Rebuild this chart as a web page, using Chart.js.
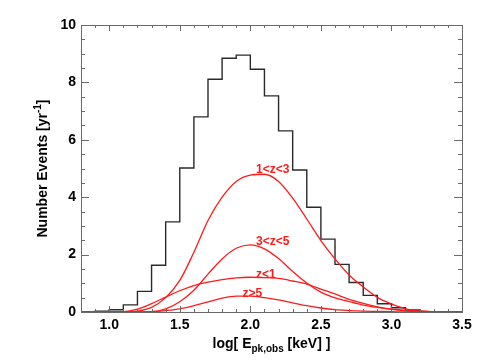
<!DOCTYPE html>
<html>
<head>
<meta charset="utf-8">
<script src="https://cdn.jsdelivr.net/npm/chart.js@4/dist/chart.umd.min.js"></script>
<style>
  html, body { margin: 0; padding: 0; background: #fff; }
  #wrap { width: 485px; height: 364px; }
</style>
</head>
<body>
<div id="wrap"><canvas id="chart" width="485" height="364"></canvas></div>
<script>
// ── Data ───────────────────────────────────────────────────────────────────

// histogram: left bin edges (last entry closes the final bin) and counts
const binEdges   = [0.8, 0.9, 1.0, 1.1, 1.2, 1.3, 1.4, 1.5, 1.6, 1.7, 1.8, 1.9, 2.0, 2.1,
                    2.2, 2.3, 2.4, 2.5, 2.6, 2.7, 2.8, 2.9, 3.0, 3.1, 3.2, 3.3, 3.4, 3.5];
const histCounts = [0, 0, 0.03, 0.08, 0.25, 0.72, 1.63, 3.14, 5.02, 6.80, 8.11, 8.84, 8.95, 8.46,
                    7.53, 6.31, 4.95, 3.65, 2.54, 1.66, 1.03, 0.58, 0.29, 0.15, 0.07, 0.01, 0];

// redshift-split model curves
const curveX   = [0.8, 0.9, 1.0, 1.1, 1.2, 1.3, 1.4, 1.5, 1.6, 1.7, 1.8, 1.9, 2.0, 2.1,
                  2.2, 2.3, 2.4, 2.5, 2.6, 2.7, 2.8, 2.9, 3.0, 3.1, 3.2, 3.3, 3.4, 3.5];
const zMid     = [0, 0, 0, 0, 0.03, 0.16, 0.50, 1.10, 2.08, 3.19, 4.00, 4.55, 4.77, 4.80,
                  4.55, 3.97, 3.24, 2.49, 1.85, 1.29, 0.87, 0.51, 0.28, 0.11, 0.04, 0.01, 0, 0];
const zHigh    = [0, 0, 0, 0, 0, 0.01, 0.11, 0.36, 0.76, 1.32, 1.85, 2.22, 2.34, 2.20,
                  1.86, 1.41, 1.01, 0.69, 0.49, 0.36, 0.24, 0.16, 0.10, 0.06, 0.03, 0.01, 0, 0];
const zLow     = [0, 0, 0, 0.01, 0.10, 0.29, 0.52, 0.74, 0.92, 1.04, 1.13, 1.19, 1.21, 1.20,
                  1.17, 1.08, 0.97, 0.80, 0.63, 0.44, 0.30, 0.18, 0.09, 0.04, 0.02, 0.01, 0, 0];
const zVeryHigh= [0, 0, 0, 0, 0, 0.01, 0.05, 0.11, 0.22, 0.35, 0.48, 0.55, 0.55, 0.50,
                  0.42, 0.32, 0.22, 0.14, 0.08, 0.05, 0.03, 0.02, 0.01, 0, 0, 0, 0, 0];

const curveLabels = ["1<z<3", "3<z<5", "z<1", "z>5"];
const labelX      = [2.04, 2.04, 2.04, 1.945];
const labelY      = [4.84, 2.33, 1.18, 0.53];

const xTicks = [1.0, 1.5, 2.0, 2.5, 3.0, 3.5];
const yTicks = [0, 2, 4, 6, 8, 10];

// ── Helpers ────────────────────────────────────────────────────────────────

const FONT = "'Liberation Sans', Arial, Helvetica, sans-serif";
const AXIS_COLOR = "#6a6a6a";

function curveSet(values) {
  return {
    data: curveX.map((x, i) => ({ x, y: values[i] })),
    borderColor: "#ff1a1a", borderWidth: 1.3, pointRadius: 0,
    cubicInterpolationMode: "monotone", clip: false, order: 0,
  };
}

// inward ticks on all four sides, frame, labels and axis titles
const decorations = {
  id: "decorations",
  afterDatasetsDraw(chart) {
    const { ctx, chartArea: a, scales: { x, y } } = chart;
    ctx.save();

    // ticks
    ctx.strokeStyle = AXIS_COLOR;
    ctx.lineWidth = 1;
    ctx.beginPath();
    for (let v = 0.8; v <= 3.5001; v += 0.1) {
      const px = Math.round(x.getPixelForValue(v)) + 0.5;
      const major = Math.abs(v * 2 - Math.round(v * 2)) < 1e-6;
      const len = major ? 6 : 3;
      ctx.moveTo(px, a.bottom); ctx.lineTo(px, a.bottom - len);
      ctx.moveTo(px, a.top);    ctx.lineTo(px, a.top + len);
    }
    for (let v = 0; v <= 10.0001; v += 0.5) {
      const py = Math.round(y.getPixelForValue(v)) + 0.5;
      const major = Math.abs(v / 2 - Math.round(v / 2)) < 1e-6;
      const len = major ? 8 : 4;
      ctx.moveTo(a.left, py);  ctx.lineTo(a.left + len, py);
      ctx.moveTo(a.right, py); ctx.lineTo(a.right - len, py);
    }
    ctx.stroke();

    // frame
    ctx.strokeRect(Math.round(a.left) + 0.5, Math.round(a.top) + 0.5,
                   Math.round(a.right - a.left), Math.round(a.bottom - a.top));

    // curve labels
    ctx.fillStyle = "#ff1a1a";
    ctx.font = `bold 12px ${FONT}`;
    ctx.textAlign = "left";
    ctx.textBaseline = "alphabetic";
    curveLabels.forEach((t, i) => {
      ctx.fillText(t, x.getPixelForValue(labelX[i]), y.getPixelForValue(labelY[i]));
    });

    // x title with subscript
    ctx.fillStyle = "#000";
    const big = `bold 14px ${FONT}`, small = `bold 10px ${FONT}`;
    const parts = [["log[ E", big, 0], ["pk,obs", small, 4], [" [keV] ]", big, 0]];
    let total = 0;
    parts.forEach(p => { ctx.font = p[1]; total += ctx.measureText(p[0]).width; });
    let cx = (a.left + a.right) / 2 - total / 2;
    parts.forEach(p => {
      ctx.font = p[1];
      ctx.fillText(p[0], cx, 348 + p[2]);
      cx += ctx.measureText(p[0]).width;
    });

    // y title with superscript
    ctx.translate(47, (a.top + a.bottom) / 2);
    ctx.rotate(-Math.PI / 2);
    const yparts = [["Number Events [yr", big, 0], ["-1", small, -6], ["]", big, 0]];
    total = 0;
    yparts.forEach(p => { ctx.font = p[1]; total += ctx.measureText(p[0]).width; });
    let cy = -total / 2;
    yparts.forEach(p => {
      ctx.font = p[1];
      ctx.fillText(p[0], cy, p[2]);
      cy += ctx.measureText(p[0]).width;
    });

    ctx.restore();
  },
};

// ── Chart ──────────────────────────────────────────────────────────────────

const ctx = document.getElementById("chart").getContext("2d");
new Chart(ctx, {
  type: "line",
  data: {
    datasets: [
      curveSet(zMid),
      curveSet(zHigh),
      curveSet(zLow),
      curveSet(zVeryHigh),
      {
        data: binEdges.map((x, i) => ({ x, y: i < histCounts.length ? histCounts[i] : 0 })),
        stepped: "after",
        borderColor: "#2a2a2a", borderWidth: 1.4, pointRadius: 0, clip: false, order: 1,
      },
    ],
  },
  options: {
    responsive: false,
    animation: false,
    events: [],
    layout: { padding: { left: 0, right: 23, top: 25, bottom: 0 } },
    plugins: { legend: { display: false }, tooltip: { enabled: false } },
    scales: {
      x: {
        type: "linear", min: 0.8, max: 3.5,
        afterBuildTicks: s => { s.ticks = xTicks.map(v => ({ value: v })); },
        afterFit: s => { s.height = 52; },
        grid: { display: false, drawTicks: false },
        border: { display: false },
        ticks: {
          color: "#000", padding: 5, maxRotation: 0, autoSkip: false,
          font: { family: FONT, weight: "bold", size: 14 },
          callback: v => Number(v).toFixed(1),
        },
      },
      y: {
        min: 0, max: 10,
        afterBuildTicks: s => { s.ticks = yTicks.map(v => ({ value: v })); },
        afterFit: s => { s.width = 81; },
        grid: { display: false, drawTicks: false },
        border: { display: false },
        ticks: {
          color: "#000", padding: 5,
          font: { family: FONT, weight: "bold", size: 14 },
        },
      },
    },
  },
  plugins: [decorations],
});
</script>
</body>
</html>
